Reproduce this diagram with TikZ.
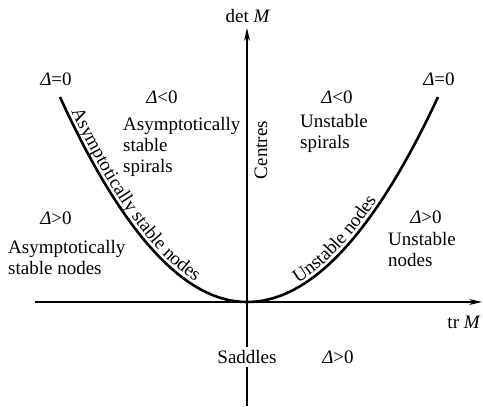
\documentclass[tikz,border=0pt]{standalone}
\usepackage{fontspec}
\setmainfont{Liberation Serif}
\usetikzlibrary{arrows.meta,decorations.text}
\begin{document}
\begin{tikzpicture}[x=1pt,y=-1pt,
  lbl/.style={font=\fontsize{19}{21}\selectfont, inner sep=0pt},
  blk/.style={lbl, align=left, anchor=north west},
  axis/.style={line width=1.5pt, -{Stealth[length=13pt,width=6pt]}},
  curve/.style={line width=2.6pt}]
\useasboundingbox (0,0) rectangle (483,407);
\coordinate (O) at (247,302);
\coordinate (xl) at (35,302);
\coordinate (xr) at (482,302);
\coordinate (yb) at (247,406);
\coordinate (yt) at (247,28);
\coordinate (L) at (60,97);
\coordinate (R) at (438,97);
\draw[axis] (xl) -- (xr);
\draw[axis] (yb) -- (yt);
\draw[curve] (L) .. controls (122.33,233.67) and (184.67,302) .. (O)
  .. controls (310.67,302) and (374.33,233.67) .. (R);
\path[decorate, decoration={text along path,
  text={|\fontsize{19}{21}\selectfont|Asymptotically stable nodes},
  text align={left indent=18pt}, raise=4pt}]
  (L) .. controls (122.33,233.67) and (184.67,302) .. (O);
\path[decorate, decoration={text along path,
  text={|\fontsize{19}{21}\selectfont|Unstable nodes},
  text align={left indent=56pt}, raise=4pt}]
  (O) .. controls (310.67,302) and (374.33,233.67) .. (R);
\node[lbl] (d0l) at (56,79) {\textit{Δ}=0};
\node[lbl] (d0r) at (439,79) {\textit{Δ}=0};
\node[lbl] (dnl) at (162,97) {\textit{Δ}<0};
\node[lbl] (dnr) at (337,97) {\textit{Δ}<0};
\node[blk] (ass) at (123,117) {Asymptotically\\stable\\spirals};
\node[blk] (us) at (300,114) {Unstable\\spirals};
\node[lbl,rotate=90] (cen) at (261,150) {Centres};
\node[lbl] (dpl) at (56,218) {\textit{Δ}>0};
\node[blk] (asn) at (8,240) {Asymptotically\\stable nodes};
\node[lbl] (dpr) at (426,217) {\textit{Δ}>0};
\node[blk] (un) at (388,232) {Unstable\\nodes};
\node[lbl, fill=white, inner xsep=1pt, inner ysep=3pt] (sad) at (247,357) {Saddles};
\node[lbl] (dpb) at (338,357) {\textit{Δ}>0};
\node[lbl] (det) at (248,16) {det \textit{M}};
\node[lbl] (tr) at (464,322) {tr \textit{M}};
\end{tikzpicture}
\end{document}
